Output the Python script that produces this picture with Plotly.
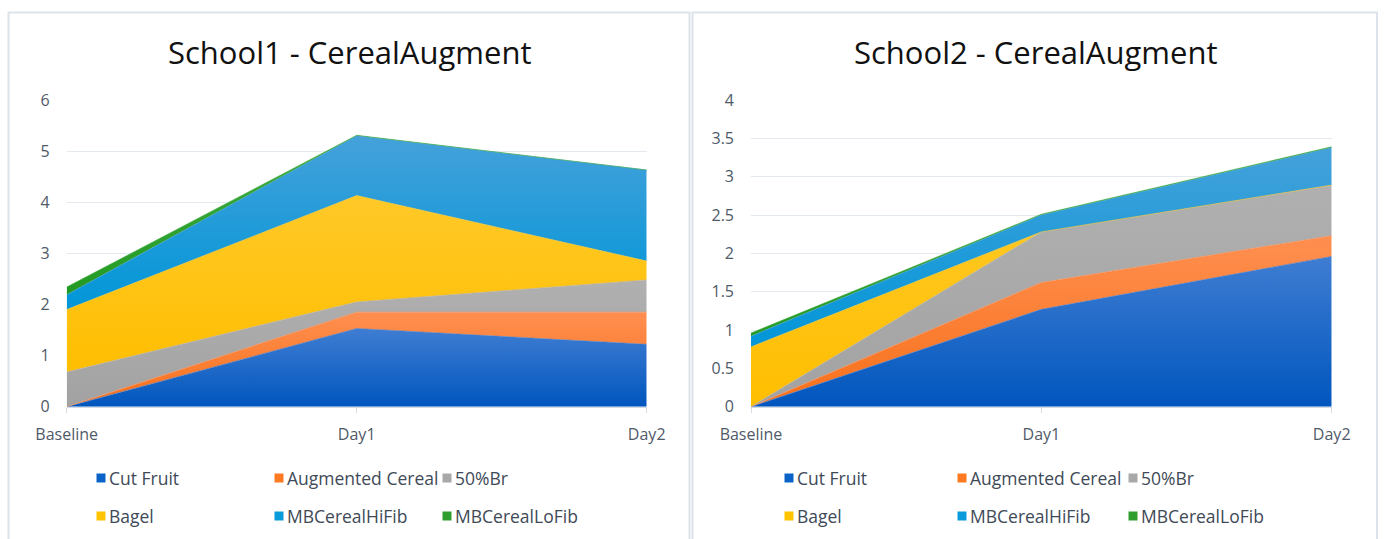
import plotly.graph_objects as go

W, H = 1384, 539

categories = ["Baseline", "Day1", "Day2"]
series_names = ["Cut Fruit", "Augmented Cereal", "50%Br", "Bagel", "MBCerealHiFib", "MBCerealLoFib"]

# School 1 values (per series, per category)
s1_cut_fruit = [0.00, 1.53, 1.22]
s1_augmented = [0.00, 0.32, 0.63]
s1_50br = [0.68, 0.20, 0.63]
s1_bagel = [1.22, 2.08, 0.37]
s1_hifib = [0.29, 1.17, 1.78]
s1_lofib = [0.15, 0.01, 0.00]

# School 2 values
s2_cut_fruit = [0.00, 1.27, 1.96]
s2_augmented = [0.00, 0.35, 0.27]
s2_50br = [0.00, 0.66, 0.66]
s2_bagel = [0.78, 0.00, 0.00]
s2_hifib = [0.14, 0.22, 0.49]
s2_lofib = [0.04, 0.01, 0.01]

titles = ["School1 - CerealAugment", "School2 - CerealAugment"]
y1_ticks = [0, 1, 2, 3, 4, 5, 6]
y2_ticks = [0, 0.5, 1, 1.5, 2, 2.5, 3, 3.5, 4]

# style (not data)
base_colors = ["#0a64c8", "#fd7a22", "#a8a8a8", "#ffc300", "#0a9bdb", "#2e9e2e"]
grad = [
    ("#0056be", "#3f7dd2"),
    ("#f7701a", "#ff8f50"),
    ("#a2a2a2", "#b0b0b0"),
    ("#ffbe00", "#ffc928"),
    ("#0096d8", "#45a1da"),
    ("#239a23", "#40ac40"),
]

FONT = "Open Sans"
TICKCOL = "#4f5a69"

fig = go.Figure()

s1 = [s1_cut_fruit, s1_augmented, s1_50br, s1_bagel, s1_hifib, s1_lofib]
s2 = [s2_cut_fruit, s2_augmented, s2_50br, s2_bagel, s2_hifib, s2_lofib]

for grp, data, xa, ya in [("g1", s1, "x", "y"), ("g2", s2, "x2", "y2")]:
    for i, (name, vals) in enumerate(zip(series_names, data)):
        fig.add_trace(go.Scatter(
            x=categories, y=vals, name=name, stackgroup=grp,
            mode="lines", line=dict(width=0.6, color=grad[i][1]),
            fillcolor=base_colors[i],
            fillgradient=dict(type="vertical",
                              colorscale=[[0, grad[i][0]], [1, grad[i][1]]]),
            xaxis=xa, yaxis=ya, showlegend=False, hoverinfo="x+y+name",
        ))

def px(x):
    return x / W

def py(y):
    return 1 - y / H

y_bottom, y_top = 406.7, 100.0
dom_y = [py(y_bottom), py(y_top)]

xaxis_common = dict(
    type="category", range=[0, 2], showgrid=False, zeroline=False,
    showline=True, linecolor="#d5dbe3", linewidth=1,
    ticks="outside", ticklen=5, tickcolor="#d5dbe3", tickwidth=1,
    tickfont=dict(family=FONT, size=16, color=TICKCOL),
    ticklabelstandoff=8, automargin=False,
)
yaxis_common = dict(
    showgrid=True, gridcolor="#e4e9f0", gridwidth=1, zeroline=False,
    showline=False, ticks="",
    tickfont=dict(family=FONT, size=16, color=TICKCOL),
    ticklabelstandoff=16, automargin=False,
)

fig.update_layout(
    width=W, height=H,
    margin=dict(l=0, r=0, t=0, b=0, autoexpand=False),
    paper_bgcolor="white", plot_bgcolor="white",
    showlegend=False,
    xaxis=dict(**xaxis_common, domain=[px(66.7), px(646.7)], anchor="y"),
    yaxis=dict(**yaxis_common, domain=dom_y, range=[0, 6], tickvals=y1_ticks, anchor="x"),
    xaxis2=dict(**xaxis_common, domain=[px(751), px(1331.7)], anchor="y2"),
    yaxis2=dict(**yaxis_common, domain=dom_y, range=[0, 4], tickvals=y2_ticks,
                ticktext=[f"{v:g}" for v in y2_ticks], anchor="x2"),
)

shapes = []
annotations = []

# panel frames
border = "#dde3ea"
for x0, x1 in [(8.5, 689.5), (692.5, 1377)]:
    shapes.append(dict(type="rect", xref="paper", yref="paper",
                       x0=px(x0), x1=px(x1), y0=-0.05, y1=py(12.5),
                       line=dict(color=border, width=2), fillcolor="rgba(0,0,0,0)", layer="below"))

# titles
for t, cx in zip(titles, [349, 1035]):
    annotations.append(dict(text=t, xref="paper", yref="paper", x=px(cx), y=py(52),
                            xanchor="center", yanchor="middle", showarrow=False,
                            font=dict(family=FONT, size=31, color="#111111")))

# manual legends (3 columns x 2 rows)
leg_cols_left = [101, 279, 447]
leg_cols_right = [789, 962, 1133]
leg_rows = [478, 516]
sq = 9
for cols in [leg_cols_left, leg_cols_right]:
    for i, name in enumerate(series_names):
        r, c = divmod(i, 3)
        mx, my = cols[c], leg_rows[r]
        shapes.append(dict(type="rect", xref="paper", yref="paper",
                           x0=px(mx - sq / 2), x1=px(mx + sq / 2),
                           y0=py(my + sq / 2), y1=py(my - sq / 2),
                           line=dict(width=0), fillcolor=base_colors[i]))
        annotations.append(dict(text=name, xref="paper", yref="paper",
                                x=px(mx + 6), y=py(my), xanchor="left", yanchor="middle",
                                showarrow=False,
                                font=dict(family=FONT, size=17.5, color="#404a57")))

fig.update_layout(shapes=shapes, annotations=annotations)

fig.write_html("out.html", config={"displayModeBar": False},
               post_script="document.body.style.margin='0';document.body.style.overflow='hidden';")
